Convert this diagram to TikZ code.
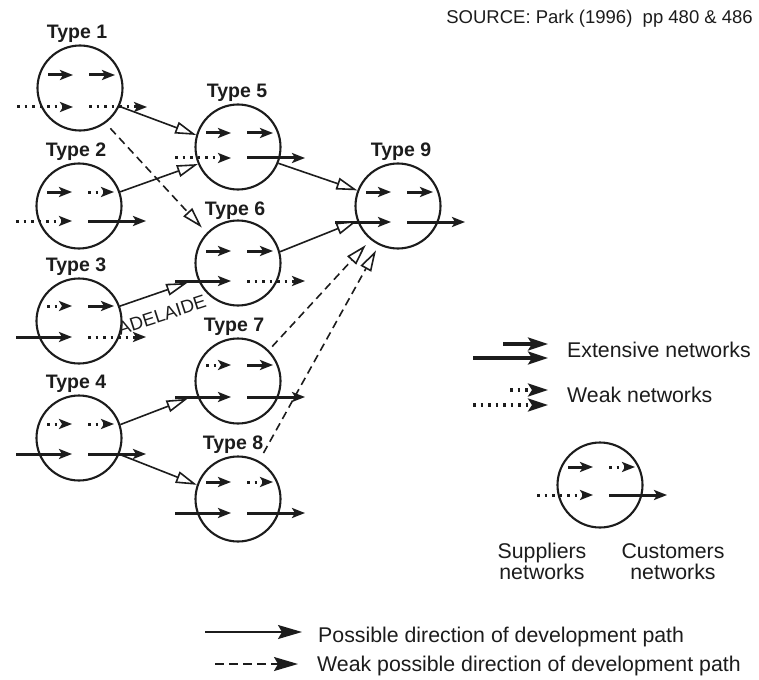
\documentclass[tikz,border=0pt]{standalone}
\usepackage{fontspec}
\setmainfont{Liberation Sans}
\usetikzlibrary{arrows.meta,calc}
\definecolor{ink}{RGB}{28,28,28}

\tikzset{
  tcirc/.style={circle, draw=ink, line width=2.1pt, minimum size=85pt, inner sep=0pt},
  tlabel/.style={font=\fontsize{19.5}{22}\selectfont\bfseries, text=ink, inner sep=0pt, anchor=base},
  legtext/.style={font=\fontsize{21.3}{25}\selectfont, text=ink, inner sep=0pt},
  ext/.style={draw=ink, line width=3pt, -{Stealth[length=13pt,width=10pt,inset=3pt]}},
  wk/.style={ext, dash pattern=on 2.8pt off 4.7pt},
  extbig/.style={draw=ink, line width=3.2pt, -{Stealth[length=20pt,width=13pt,inset=4pt]}},
  wkbig/.style={extbig, dash pattern=on 2.8pt off 4.7pt},
  dev/.style={draw=ink, line width=1.6pt, -{Triangle[open, fill=white, length=21pt, width=12pt]}},
  devw/.style={dev, dash pattern=on 8pt off 5pt},
  devleg/.style={draw=ink, line width=1.6pt, -{Stealth[length=24pt,width=14pt,inset=4pt]}},
  devlegw/.style={devleg, dash pattern=on 9pt off 5pt},
}

% A network circle: name, x, y, upper-row and lower-row offsets, then the
% styles of the upper-left, upper-right, lower-left and lower-right arrows
\newcommand\netcirc[9]{%
  \node[tcirc] (#1) at (#2,#3) {};
  \draw[#6] ($(#1)+(-32,#4)$) -- ($(#1)+(-7,#4)$);
  \draw[#7] ($(#1)+(9,#4)$) -- ($(#1)+(35,#4)$);
  \draw[#8] ($(#1)+(-63,#5)$) -- ($(#1)+(-7,#5)$);
  \draw[#9] ($(#1)+(9,#5)$) -- ($(#1)+(67,#5)$);
}

\begin{document}
\begin{tikzpicture}[x=1pt,y=-1pt]
\useasboundingbox[fill=white] (0,0) rectangle (759,679);

% source line
\node[legtext, font=\fontsize{18.5}{22}\selectfont, anchor=base east] (src) at (753,24)
  {SOURCE: Park (1996)~~pp 480 \& 486};

% network circles
\netcirc{t1}{80}{88}{-13}{19}{ext}{ext}{wk}{wk}
\netcirc{t2}{79}{206}{-14}{15}{ext}{wk}{wk}{ext}
\netcirc{t3}{79}{321}{-15}{16}{wk}{ext}{ext}{wk}
\netcirc{t4}{79}{438}{-14}{16}{wk}{wk}{ext}{ext}
\netcirc{t5}{238}{147}{-14}{11}{ext}{ext}{wk}{ext}
\netcirc{t6}{238}{263}{-12}{18}{ext}{ext}{ext}{wk}
\netcirc{t7}{238}{381}{-16}{16}{wk}{ext}{ext}{ext}
\netcirc{t8}{238}{499}{-17}{14}{ext}{wk}{ext}{ext}
\netcirc{t9}{398}{206}{-14}{16}{ext}{ext}{ext}{ext}

% type labels
\node[tlabel] (t1lab) at ($(t1.north)+(-3,-6)$) {Type 1};
\node[tlabel] (t2lab) at ($(t2.north)+(-3,-6)$) {Type 2};
\node[tlabel] (t3lab) at ($(t3.north)+(-3,-6)$) {Type 3};
\node[tlabel] (t4lab) at ($(t4.north)+(-3,-6)$) {Type 4};
\node[tlabel] (t5lab) at ($(t5.north)+(-1,-6)$) {Type 5};
\node[tlabel] (t6lab) at ($(t6.north)+(-3,-4)$) {Type 6};
\node[tlabel] (t7lab) at ($(t7.north)+(-4,-6)$) {Type 7};
\node[tlabel] (t8lab) at ($(t8.north)+(-5,-6)$) {Type 8};
\node[tlabel] (t9lab) at ($(t9.north)+(3,-6)$) {Type 9};

% development paths
\draw[dev] (t1.-25) -- (t5.164);
\draw[dev] (t2.19) -- (t5.-157);
\draw[devw, shorten <=7pt, shorten >=7pt] (t1.-54) -- (t6.136);
\draw[dev, shorten >=11pt] (t3.20) -- (t6.202);
\draw[dev, shorten >=10pt] (t4.18) -- (t7.199);
\draw[dev] (t4.-22) -- (t8.161);
\draw[dev] (t5.-22) -- (t9.159);
\draw[dev] (t6.15) -- (t9.200);
\draw[devw, shorten <=5pt, shorten >=7pt] (t7.45) -- (t9.231);
\draw[devw, shorten <=9pt, shorten >=6pt] (t8.61) -- (t9.244);

\node[legtext, font=\fontsize{18.5}{22}\selectfont, rotate=18] (adl) at (162,315) {ADELAIDE};

% network legend
\node[legtext, anchor=base west] (extl) at (567,357) {Extensive networks};
\node[legtext, anchor=base west] (wkl) at (567,402) {Weak networks};
\draw[extbig] ($(extl.base west)+(-64,-13)$) -- ($(extl.base west)+(-19,-13)$);
\draw[extbig] ($(extl.base west)+(-94,1)$) -- ($(extl.base west)+(-19,1)$);
\draw[wkbig] ($(wkl.base west)+(-57,-12)$) -- ($(wkl.base west)+(-19,-12)$);
\draw[wkbig] ($(wkl.base west)+(-94,3)$) -- ($(wkl.base west)+(-19,3)$);

\netcirc{tl}{600}{485}{-18}{10}{ext}{wk}{wk}{ext}
\node[legtext, anchor=base] (supA) at (542,558) {Suppliers};
\node[legtext, anchor=base] (supB) at (542,579) {networks};
\node[legtext, anchor=base] (cusA) at (673,558) {Customers};
\node[legtext, anchor=base] (cusB) at (673,579) {networks};

% development path legend
\node[legtext, anchor=base west] (pdev) at (318,642) {Possible direction of development path};
\node[legtext, anchor=base west] (wdev) at (317,671) {Weak possible direction of development path};
\coordinate (pdevA) at (205,632);
\coordinate (pdevB) at (302,632);
\coordinate (wdevA) at (215,664);
\coordinate (wdevB) at (298,664);
\draw[devleg] (pdevA) -- (pdevB);
\draw[devlegw] (wdevA) -- (wdevB);
\end{tikzpicture}
\end{document}
